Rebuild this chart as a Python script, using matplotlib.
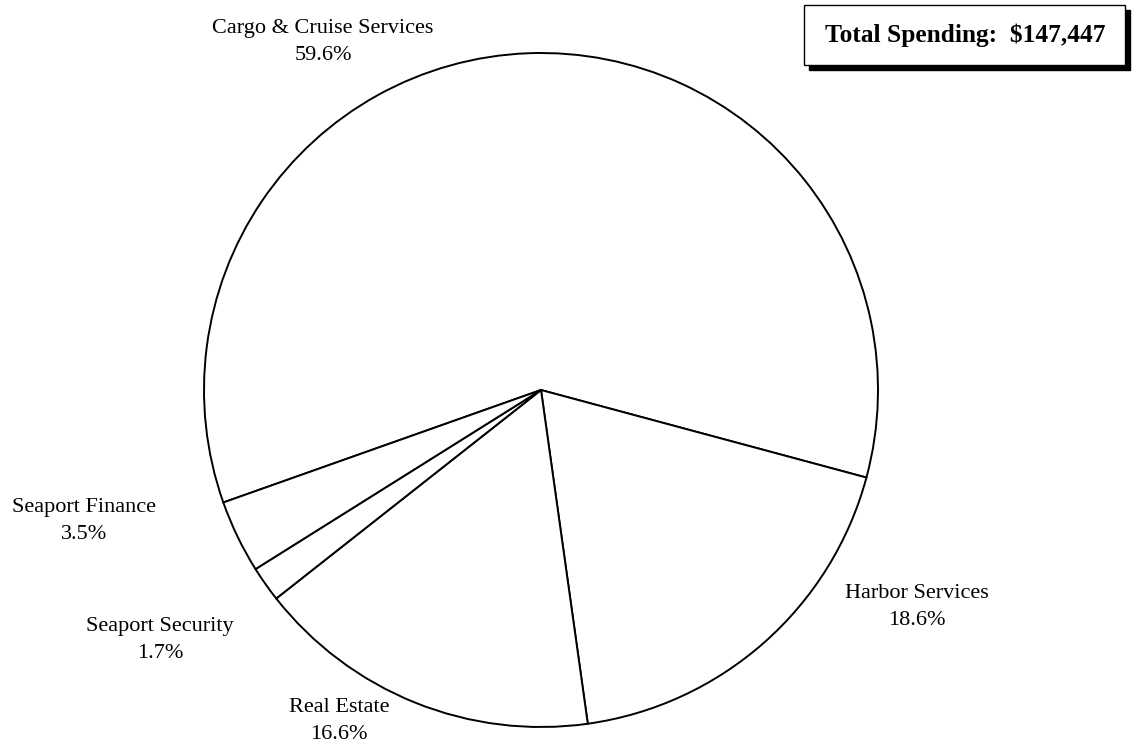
import matplotlib
matplotlib.use("Agg")
import matplotlib.pyplot as plt
from matplotlib.patches import Rectangle

# spending shares (percent), in clockwise order starting at Cargo
categories = ["Cargo & Cruise Services", "Harbor Services", "Real Estate",
              "Seaport Security", "Seaport Finance"]
shares = [59.6, 18.6, 16.6, 1.7, 3.5]
total_label = "Total Spending:  $147,447"

# label anchor points in pixel space (y measured from top)
label_pos = [(323, 42), (917, 607), (339, 721), (160, 640), (84, 521)]

W, H = 1132, 748
plt.rcParams['font.family'] = ['Liberation Serif', 'DejaVu Serif']

fig = plt.figure(figsize=(W / 100, H / 100), dpi=100)
ax = fig.add_axes([0, 0, 1, 1])

cx, cy, r = 541, H - 390, 337
ax.pie(shares, startangle=199.5, counterclock=False, center=(cx, cy), radius=r,
       colors=['white'] * len(shares), frame=True,
       wedgeprops=dict(edgecolor='black', linewidth=1.4))
ax.set_xlim(0, W)
ax.set_ylim(0, H)
ax.set_aspect('auto')
ax.axis('off')

for name, val, (x, y) in zip(categories, shares, label_pos):
    ax.text(x, H - y, f"{name}\n{val:.1f}%", ha='center', va='center',
            fontsize=16, linespacing=1.6)

# total box with drop shadow
bx, by, bw, bh = 804, 5, 321, 60
ax.add_patch(Rectangle((bx + 5, H - by - bh - 5), bw, bh, facecolor='black',
                       edgecolor='black', zorder=5))
ax.add_patch(Rectangle((bx, H - by - bh), bw, bh, facecolor='white',
                       edgecolor='black', linewidth=1.0, zorder=6))
ax.text(bx + bw / 2 + 1, H - by - bh / 2, total_label, ha='center', va='center',
        fontsize=18.3, fontweight='bold', zorder=7)

fig.savefig("out.png", dpi=100)
